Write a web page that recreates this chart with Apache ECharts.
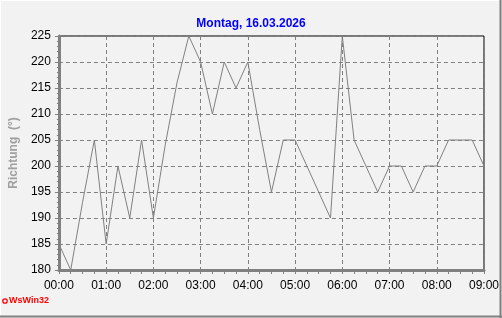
<!DOCTYPE html>
<html>
<head>
<meta charset="utf-8">
<script src="https://cdn.jsdelivr.net/npm/echarts@6/dist/echarts.min.js"></script>
<style>
html,body{margin:0;padding:0;background:#F2F2F2;}
#c{width:502px;height:318px;}
</style>
</head>
<body>
<div id="c"></div>
<script>
var titleText = 'Montag, 16.03.2026';
var yAxisName = 'Richtung  (°)';
var times = ['00:00','00:15','00:30','00:45','01:00','01:15','01:30','01:45','02:00','02:15','02:30','02:45',
  '03:00','03:15','03:30','03:45','04:00','04:15','04:30','04:45','05:00','05:15','05:30','05:45',
  '06:00','06:15','06:30','06:45','07:00','07:15','07:30','07:45','08:00','08:15','08:30','08:45','09:00'];
var direction = [185,180,193,205,185,200,190,205,190,204,216,225,
  220,210,220,215,220,207,195,205,205,200,195,190,
  225,205,200,195,200,200,195,200,200,205,205,205,200];
var yMin = 180, yMax = 225, yStep = 5;

var chart = echarts.init(document.getElementById('c'), null, {renderer:'canvas'});
var font = '"Liberation Sans", Arial, sans-serif';
chart.setOption({
  backgroundColor: '#F2F2F2',
  animation: false,
  title: {
    text: titleText, left: 'center', top: 13,
    textStyle: {color: '#0000FF', fontSize: 12, fontWeight: 'bold', fontFamily: font}
  },
  grid: {left: 58, right: 16, top: 36, bottom: 48, show: true, borderColor: '#000', borderWidth: 1, backgroundColor: 'transparent'},
  xAxis: {
    type: 'category', data: times, boundaryGap: false,
    axisLine: {lineStyle: {color: '#808080', width: 3}},
    axisTick: {show: true, interval: 0, length: 4, lineStyle: {color: '#808080', width: 1}},
    axisLabel: {interval: 3, color: '#000', fontSize: 12, fontFamily: font, margin: 10},
    splitLine: {show: true, interval: 3, lineStyle: {color: '#808080', type: [4, 3], width: 1}}
  },
  yAxis: {
    type: 'value', min: yMin, max: yMax, interval: yStep,
    name: yAxisName, nameLocation: 'middle', nameGap: 33,
    nameTextStyle: {color: '#A0A0A0', fontSize: 12, fontWeight: 'bold', fontFamily: font},
    axisLine: {show: true, lineStyle: {color: '#808080', width: 3}},
    axisTick: {show: true, length: 4, lineStyle: {color: '#808080'}},
    minorTick: {show: true, splitNumber: 5, length: 2, lineStyle: {color: '#808080'}},
    axisLabel: {color: '#000', fontSize: 12, fontFamily: font, margin: 8},
    splitLine: {show: true, lineStyle: {color: '#808080', type: [4, 3], width: 1}}
  },
  series: [{
    type: 'line', data: direction, symbol: 'none',
    lineStyle: {color: '#808080', width: 1}
  }],
  graphic: [
    {type: 'line', shape: {x1: 0, y1: 0.5, x2: 501, y2: 0.5}, style: {stroke: '#FFFFFF', lineWidth: 1}},
    {type: 'line', shape: {x1: 0.5, y1: 0, x2: 0.5, y2: 317}, style: {stroke: '#FFFFFF', lineWidth: 1}},
    {type: 'line', shape: {x1: 500.5, y1: 0, x2: 500.5, y2: 318}, style: {stroke: '#808080', lineWidth: 2}},
    {type: 'line', shape: {x1: 0, y1: 316.5, x2: 502, y2: 316.5}, style: {stroke: '#808080', lineWidth: 2}},
    {type: 'circle', shape: {cx: 5, cy: 301, r: 2.2}, style: {fill: 'none', stroke: '#FF0000', lineWidth: 1.3}},
    {type: 'text', left: 9, top: 296, style: {text: 'WsWin32', fill: '#FF0000', font: 'bold 9px ' + font}}
  ]
});
</script>
</body>
</html>
